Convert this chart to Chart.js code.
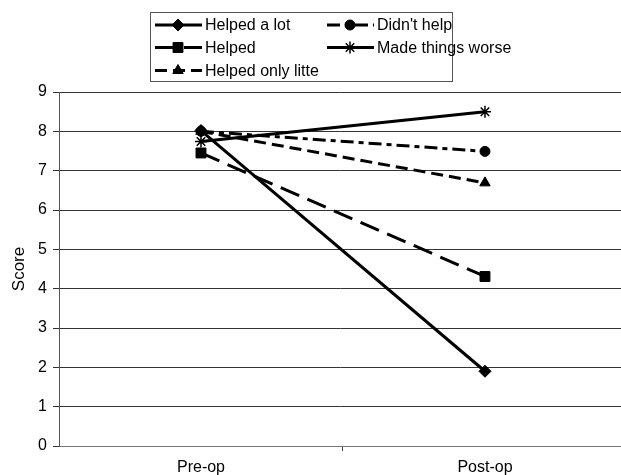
<!DOCTYPE html>
<html lang="en">
<head>
<meta charset="UTF-8">
<title>Score</title>
<script src="https://cdn.jsdelivr.net/npm/chart.js"></script>
<style>
  html, body { margin: 0; padding: 0; background: #fff; }
  #wrap { width: 621px; height: 475px; }
</style>
</head>
<body>
<div id="wrap"><canvas id="scoreChart"></canvas></div>
<script>
    // categories (x positions 0 and 1)
    const categories = ['Pre-op', 'Post-op'];
    const yTicks = [0, 1, 2, 3, 4, 5, 6, 7, 8, 9];

    // series
    const helpedALot      = [8.02, 1.9];
    const helped          = [7.45, 4.31];
    const helpedOnlyLitte = [8.0, 6.69];
    const didntHelp       = [8.0, 7.49];
    const madeWorse       = [7.74, 8.5];

    const seriesNames = ['Helped a lot', 'Helped', 'Helped only litte', "Didn't help", 'Made things worse'];

    function toPoints(arr) {
        return arr.map((v, i) => ({ x: i, y: v }));
    }

    const datasets = [
        { label: seriesNames[0], data: toPoints(helpedALot), borderDash: [], pointStyle: 'rectRot', pointRadius: 6 },
        { label: seriesNames[1], data: toPoints(helped), borderDash: [20, 9], pointStyle: 'rect', pointRadius: 7 },
        { label: seriesNames[2], data: toPoints(helpedOnlyLitte), borderDash: [12, 6], pointStyle: 'triangle', pointRadius: 6 },
        { label: seriesNames[3], data: toPoints(didntHelp), borderDash: [13, 5, 5, 5], pointStyle: 'circle', pointRadius: 5 },
        { label: seriesNames[4], data: toPoints(madeWorse), borderDash: [], pointStyle: 'star', pointRadius: 6 }
    ].map(d => Object.assign({
        borderColor: '#000',
        backgroundColor: '#000',
        borderWidth: 3,
        pointBorderWidth: d.pointStyle === 'star' ? 1.5 : 1,
        pointBackgroundColor: '#000',
        pointBorderColor: '#000',
        fill: false
    }, d));

    // legend slot for each dataset: [column, row]
    const legendSlots = [[0, 0], [0, 1], [0, 2], [1, 0], [1, 1]];

    const boxLegend = {
        id: 'boxLegend',
        afterDraw(chart) {
            const ctx = chart.ctx;
            ctx.save();
            ctx.strokeStyle = '#555';
            ctx.lineWidth = 1;
            ctx.setLineDash([]);
            ctx.strokeRect(150.5, 12.5, 302, 69);

            const colX = [155, 327];
            const rowY = [25, 47.5, 70.5];
            chart.data.datasets.forEach((ds, i) => {
                const [c, r] = legendSlots[i];
                const x = colX[c], y = rowY[r];
                ctx.strokeStyle = '#000';
                ctx.lineWidth = 3;
                ctx.setLineDash(ds.borderDash);
                ctx.beginPath();
                ctx.moveTo(x, y);
                ctx.lineTo(x + 47, y);
                ctx.stroke();
                ctx.setLineDash([]);
                ctx.fillStyle = '#000';
                ctx.lineWidth = ds.pointBorderWidth;
                Chart.helpers.drawPoint(ctx, {
                    pointStyle: ds.pointStyle,
                    radius: ds.pointRadius,
                    borderWidth: ds.pointBorderWidth,
                    rotation: 0
                }, x + 23, y);
                ctx.fillStyle = '#000';
                ctx.font = '16px "Liberation Sans", Arial, sans-serif';
                ctx.textBaseline = 'middle';
                ctx.textAlign = 'left';
                ctx.fillText(ds.label, x + 50, y + 1);
            });
            ctx.restore();
        }
    };

    new Chart(document.getElementById('scoreChart'), {
        type: 'line',
        data: { datasets: datasets },
        plugins: [boxLegend],
        options: {
            responsive: true,
            maintainAspectRatio: false,
            animation: false,
            layout: { autoPadding: false, padding: { top: 92, right: 0, left: 0, bottom: 0 } },
            plugins: {
                legend: { display: false },
                tooltip: { enabled: false }
            },
            elements: { line: { tension: 0 } },
            scales: {
                x: {
                    type: 'linear',
                    min: -0.5,
                    max: 1.479,
                    afterBuildTicks: scale => {
                        scale.ticks = [{ value: 0 }, { value: 0.5 }, { value: 1 }];
                    },
                    afterFit: scale => { scale.height = 29; },
                    ticks: {
                        autoSkip: false,
                        maxRotation: 0,
                        padding: 7,
                        color: '#000',
                        font: { family: '"Liberation Sans", Arial, sans-serif', size: 16 },
                        callback: v => (v === 0 ? categories[0] : v === 1 ? categories[1] : '')
                    },
                    grid: {
                        drawOnChartArea: false,
                        drawTicks: true,
                        tickLength: 5,
                        color: ctx => (ctx.tick && ctx.tick.value === 0.5 ? '#444' : 'rgba(0,0,0,0)')
                    },
                    border: { display: true, color: '#777', width: 1 }
                },
                y: {
                    min: 0,
                    max: 9,
                    afterBuildTicks: scale => {
                        scale.ticks = yTicks.map(v => ({ value: v }));
                    },
                    afterFit: scale => { scale.width = 59; },
                    ticks: {
                        padding: 6,
                        color: '#000',
                        font: { family: '"Liberation Sans", Arial, sans-serif', size: 16 }
                    },
                    grid: {
                        color: '#333',
                        lineWidth: 1,
                        tickLength: 6
                    },
                    border: { display: true, color: '#555', width: 1 },
                    title: {
                        display: true,
                        text: 'Score',
                        color: '#000',
                        padding: { top: 9, bottom: 0 },
                        font: { family: '"Liberation Sans", Arial, sans-serif', size: 17 }
                    }
                }
            }
        }
    });
</script>
</body>
</html>
